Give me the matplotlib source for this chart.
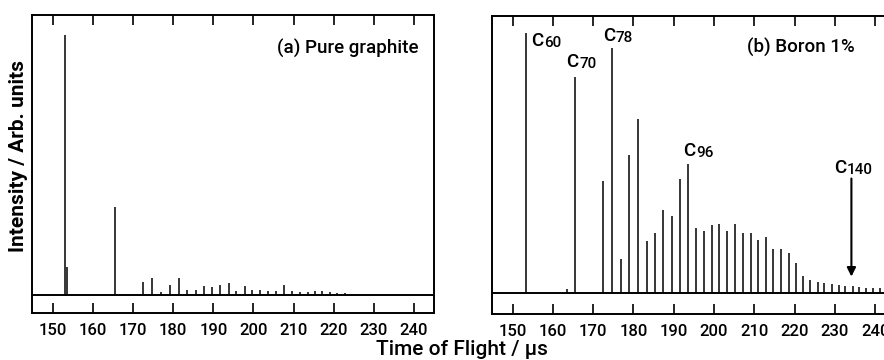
import matplotlib
matplotlib.use('Agg')
import matplotlib.pyplot as plt

plt.rcParams['font.family'] = ['Roboto', 'DejaVu Sans']
plt.rcParams['font.weight'] = 'medium'

# Peak positions (time of flight, us) and heights (C60 = 100)
graphite_times = [153.0, 153.5, 165.6, 172.4, 174.7, 177.0, 179.2, 181.4, 183.5, 185.6,
                  187.6, 189.7, 191.7, 193.8, 195.7, 197.8, 199.7, 201.7, 203.7, 205.7,
                  207.6, 209.6, 211.5, 213.5, 215.4, 217.2, 219.0, 220.9, 222.7, 224.5]
graphite_heights = [100, 10.8, 34, 5, 6.5, 1.2, 3.8, 6.7, 2, 2,
                    3.5, 3, 3.7, 4.5, 1.5, 3.5, 2, 2, 1.5, 1.5,
                    4, 1.5, 1, 1, 1.5, 1.5, 1, 0.8, 0.6, 0.5]

boron_times = [153.2, 163.4, 165.5, 172.45, 174.7, 176.8, 179.0, 181.2, 183.3, 185.4,
               187.4, 189.5, 191.6, 193.6, 195.5, 197.5, 199.4, 201.3, 203.3, 205.3,
               207.3, 209.1, 211.0, 212.9, 214.7, 216.6, 218.5, 220.4, 222.2, 223.9,
               225.7, 227.4, 229.2, 230.9, 232.6, 234.4, 236.1, 237.8, 239.5, 241.2]
boron_heights = [100, 1.5, 83, 43, 94, 13, 53, 67, 20, 23,
                 32, 29.6, 43.7, 49.5, 25, 24, 26, 26.7, 23.7, 26.4,
                 23, 23.2, 20.4, 21.5, 17, 17, 15.5, 11.7, 6.5, 5,
                 4.2, 4, 3.5, 3, 2.7, 2.5, 2.3, 2, 2, 2]

# Cluster labels: (element, cluster size, time, height of text baseline)
boron_labels = [('C', '60', 154.7, 94.8),
                ('C', '70', 163.4, 87.0),
                ('C', '78', 172.4, 97.0),
                ('C', '96', 192.4, 52.5),
                ('C', '140', 229.9, 46.3)]
arrow_time = 234.1
arrow_from = 44.0
arrow_to = 6.3

xticks = [150, 160, 170, 180, 190, 200, 210, 220, 230, 240]


def style_axes(ax, ylim):
    ax.set_xlim(144.8, 245.0)
    ax.set_ylim(*ylim)
    ax.set_xticks(xticks)
    ax.set_yticks([])
    ax.tick_params(axis='x', which='both', direction='in', top=True, bottom=True,
                   length=7, width=1.2, labelsize=12, pad=7)
    for sp in ax.spines.values():
        sp.set_linewidth(1.4)


def draw_spectrum(ax, times, heights):
    ax.axhline(0, color='black', lw=1.4)
    ax.vlines(times, 0, heights, colors='black', lw=1.1)


fig = plt.figure(figsize=(8.84, 3.6), dpi=100)
ax1 = fig.add_axes([0.0362, 0.1306, 0.4548, 0.8278])
ax2 = fig.add_axes([0.5562, 0.1278, 0.4566, 0.8278])

draw_spectrum(ax1, graphite_times, graphite_heights)
style_axes(ax1, (-6.92, 107.7))
ax1.text(0.961, 0.886, '(a) Pure graphite', transform=ax1.transAxes,
         ha='right', va='center', fontsize=13.5)

draw_spectrum(ax2, boron_times, boron_heights)
style_axes(ax2, (-8.08, 106.5))
ax2.text(0.898, 0.895, '(b) Boron 1%', transform=ax2.transAxes,
         ha='right', va='center', fontsize=13.5)

for base, sub, t, h in boron_labels:
    c = ax2.text(t, h, base, ha='left', va='baseline', fontsize=13.5)
    ax2.annotate(sub, xy=(1.0, 0.0), xycoords=c, xytext=(0.3, 0),
                 textcoords='offset points', ha='left', va='bottom', fontsize=11)

ax2.annotate('', xy=(arrow_time, arrow_to), xytext=(arrow_time, arrow_from),
             arrowprops=dict(arrowstyle='-|>', color='black', lw=1.5,
                             mutation_scale=13, shrinkA=0, shrinkB=0))

fig.text(0.021, 0.567, 'Intensity / Arb. units', rotation=90, ha='center',
         va='center', fontsize=15, fontweight='bold')
fig.text(0.523, 0.028, 'Time of Flight / μs', ha='center', va='center',
         fontsize=15)

fig.savefig('out.png', dpi=100)
